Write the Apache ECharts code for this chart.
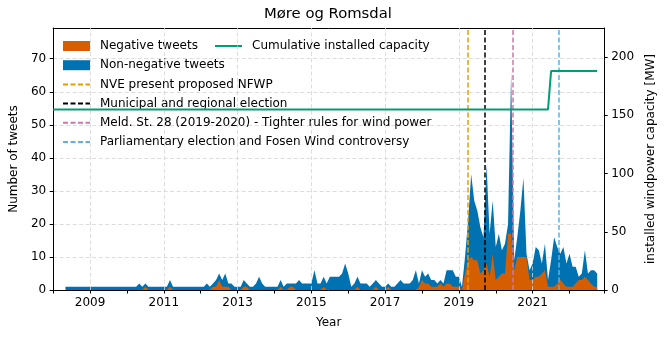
<!DOCTYPE html>
<html>
<head>
<meta charset="utf-8">
<script src="https://cdn.jsdelivr.net/npm/echarts@6/dist/echarts.min.js"></script>
<style>
  html, body { margin: 0; padding: 0; background: #fff; }
  #chart { width: 665px; height: 338px; }
</style>
</head>
<body>
<div id="chart"></div>
<script>
// tweets per month (flat stretches only listed at their ends)
const tweetMonths = [
  '2008-05', '2010-04', '2010-05', '2010-06', '2010-07', '2010-08', '2011-02', '2011-03', '2011-04',
  '2012-02', '2012-03', '2012-04', '2012-05', '2012-06', '2012-07', '2012-08', '2012-09', '2012-10', '2012-11', '2012-12',
  '2013-02', '2013-03', '2013-04', '2013-05', '2013-06', '2013-07', '2013-08', '2013-09', '2013-10',
  '2014-02', '2014-03', '2014-04', '2014-05', '2014-06', '2014-07', '2014-08', '2014-09', '2014-10', '2014-11', '2014-12',
  '2015-01', '2015-02', '2015-03', '2015-04', '2015-05', '2015-06', '2015-07', '2015-08', '2015-09', '2015-10', '2015-11', '2015-12',
  '2016-01', '2016-02', '2016-03', '2016-04', '2016-05', '2016-06', '2016-07', '2016-08', '2016-09', '2016-10', '2016-11', '2016-12',
  '2017-01', '2017-02', '2017-03', '2017-04', '2017-05', '2017-06', '2017-07', '2017-08', '2017-09', '2017-10', '2017-11', '2017-12',
  '2018-01', '2018-02', '2018-03', '2018-04', '2018-05', '2018-06', '2018-07', '2018-08', '2018-09', '2018-10', '2018-11', '2018-12',
  '2019-01', '2019-02', '2019-03', '2019-04', '2019-05', '2019-06', '2019-07', '2019-08', '2019-09', '2019-10', '2019-11', '2019-12',
  '2020-01', '2020-02', '2020-03', '2020-04', '2020-05', '2020-06', '2020-07', '2020-08', '2020-09', '2020-10', '2020-11', '2020-12',
  '2021-01', '2021-02', '2021-03', '2021-04', '2021-05', '2021-06', '2021-07', '2021-08', '2021-09', '2021-10', '2021-11', '2021-12',
  '2022-01', '2022-02', '2022-03', '2022-04', '2022-05', '2022-06', '2022-07', '2022-08', '2022-09', '2022-10'
]
const negTweets = [
  0, 0, 0, 0, 1, 0, 0, 1, 0,
  0, 0, 0, 1, 1, 3, 1, 1, 1, 0, 0,
  0, 1, 1, 0, 0, 0, 0, 0, 0,
  0, 1, 0, 0, 1, 1, 0, 0, 0, 0, 0,
  0, 0, 0, 0, 1, 0, 0, 0, 0, 0, 0, 0,
  0, 0, 0, 1, 0, 0, 0, 0, 0, 1, 0, 0,
  0, 1, 0, 0, 0, 0, 0, 0, 0, 0, 0, 1,
  3, 2, 2, 1, 1, 1, 2, 1, 2, 2, 1, 1,
  1, 0, 5, 9, 10, 9, 9, 5, 6, 8, 4, 11,
  3, 4, 5, 5, 17, 17, 6, 10, 10, 10, 10, 3,
  3, 4, 4, 5, 6, 1, 1, 1, 2, 3, 2, 1,
  1, 1, 2, 3, 3, 4, 3, 2, 1, 1
]
const nonNegTweets = [
  1, 1, 2, 1, 1, 1, 1, 2, 1,
  1, 2, 1, 1, 2, 2, 2, 4, 1, 2, 1,
  1, 2, 1, 1, 1, 2, 4, 2, 1,
  1, 2, 1, 2, 1, 1, 2, 3, 2, 2, 2,
  2, 6, 2, 2, 3, 2, 4, 4, 4, 4, 5, 8,
  5, 1, 2, 3, 2, 2, 2, 1, 2, 2, 2, 1,
  1, 1, 1, 1, 2, 3, 2, 2, 2, 3, 6, 1,
  3, 2, 3, 2, 2, 1, 1, 1, 4, 4, 5, 3,
  3, 1, 5, 12, 25, 18, 15, 14, 10, 30, 13, 16,
  10, 13, 7, 9, 3, 49, 3, 6, 14, 24, 1, 3,
  5, 9, 8, 3, 8, 2, 8, 15, 11, 8, 11, 7,
  10, 6, 5, 1, 2, 8, 2, 4, 5, 4
]

// cumulative installed capacity [MW]
const capMonths = ['2008-01', '2021-06', '2021-07', '2022-10']
const capacityMW = [155, 155, 188, 188]

// events (dashed vertical lines)
const eventNames = [
  'NVE present proposed NFWP',
  'Municipal and regional election',
  'Meld. St. 28 (2019-2020) - Tighter rules for wind power',
  'Parliamentary election and Fosen Wind controversy'
]
const eventDates = ['2019-04-01', '2019-09-09', '2020-06-19', '2021-09-13']
const eventColors = ['#E69F00', '#000000', '#CC79A7', '#56B4E9']

const gridYears = [2009, 2011, 2013, 2015, 2017, 2019, 2021]

const FONT = 'DejaVu Sans'

const toYear = (s) => {
  const p = s.split('-').map(Number)
  return p[0] + (p[1] - 1) / 12 + ((p[2] || 1) - 1) / 365
}

const xs = tweetMonths.map(toYear)
const negData = xs.map((x, i) => [x, negTweets[i]])
// blue area is drawn from zero up to negative + non-negative
const totalData = xs.map((x, i) => [x, negTweets[i] + nonNegTweets[i]])
const capData = capMonths.map((m, i) => [toYear(m), capacityMW[i]])

const dashGrey = { color: '#d4d4d4', width: 0.8, type: [4, 2.5] }
const noSymbol = { opacity: 0, color: 'rgba(0,0,0,0)', borderWidth: 0 }

const chart = echarts.init(document.getElementById('chart'))

const eventSeries = eventNames.map((name, i) => ({
  name: name,
  type: 'line',
  data: [],
  symbol: 'none',
  z: 6,
  lineStyle: { color: eventColors[i], width: 1.5, type: [5, 2.5] },
  itemStyle: { color: eventColors[i] },
  markLine: {
    silent: true,
    symbol: 'none',
    label: { show: false },
    lineStyle: { color: eventColors[i], width: 1.5, type: [5, 2.5] },
    data: [{ xAxis: toYear(eventDates[i]) }]
  }
}))

chart.setOption({
  animation: false,
  textStyle: { fontFamily: FONT },
  title: {
    text: 'Møre og Romsdal',
    left: 264,
    top: 7,
    padding: 0,
    textStyle: { fontFamily: FONT, fontSize: 14.8, fontWeight: 'normal', color: '#000' }
  },
  grid: { left: 52, right: 60, top: 28, bottom: 48 },
  legend: [
    {
      orient: 'vertical',
      left: 57,
      top: 35,
      itemWidth: 27,
      itemHeight: 10,
      itemGap: 7.2,
      textStyle: { fontFamily: FONT, fontSize: 12, color: '#000', padding: [0, 0, 0, 5] },
      data: [
        { name: 'Negative tweets', icon: 'rect', itemStyle: { borderWidth: 0 } },
        { name: 'Non-negative tweets', icon: 'rect', itemStyle: { borderWidth: 0 } },
        ...eventNames.map((n) => ({ name: n, itemStyle: noSymbol }))
      ]
    },
    {
      orient: 'vertical',
      left: 209,
      top: 35,
      itemWidth: 27,
      itemHeight: 10,
      textStyle: { fontFamily: FONT, fontSize: 12, color: '#000', padding: [0, 0, 0, 5] },
      data: [{ name: 'Cumulative installed capacity', itemStyle: noSymbol }]
    }
  ],
  xAxis: [
    {
      type: 'value',
      min: 2008,
      max: 2022.94,
      interval: 1,
      name: 'Year',
      nameLocation: 'middle',
      nameGap: 27,
      nameTextStyle: { fontFamily: FONT, fontSize: 12, color: '#000' },
      axisLine: { show: true, lineStyle: { color: '#000', width: 1 } },
      axisTick: { show: true, length: 3.5, lineStyle: { color: '#000' } },
      axisLabel: {
        margin: 7,
        fontFamily: FONT,
        fontSize: 12,
        color: '#000',
        formatter: (v) => (Number.isInteger(v) && v % 2 === 1 ? String(v) : '')
      },
      splitLine: { show: false }
    },
    {
      type: 'value',
      position: 'top',
      min: 2008,
      max: 2022.94,
      axisLine: { show: true, onZero: false, lineStyle: { color: '#000', width: 1 } },
      axisTick: { show: false },
      axisLabel: { show: false },
      splitLine: { show: false }
    }
  ],
  yAxis: [
    {
      type: 'value',
      min: 0,
      max: 79.3,
      interval: 10,
      name: 'Number of tweets',
      nameLocation: 'middle',
      nameGap: 24,
      nameTextStyle: { fontFamily: FONT, fontSize: 12, color: '#000' },
      axisLine: { show: true, lineStyle: { color: '#000', width: 1 } },
      axisTick: { show: true, length: 3.5, lineStyle: { color: '#000' } },
      axisLabel: { margin: 7, fontFamily: FONT, fontSize: 12, color: '#000', showMaxLabel: false },
      splitLine: { show: true, lineStyle: dashGrey }
    },
    {
      type: 'value',
      min: 0,
      max: 225,
      interval: 50,
      position: 'right',
      name: 'installed windpower capacity [MW]',
      nameLocation: 'middle',
      nameGap: 40,
      nameTextStyle: { fontFamily: FONT, fontSize: 12, color: '#000' },
      axisLine: { show: true, lineStyle: { color: '#000', width: 1 } },
      axisTick: { show: true, length: 3.5, lineStyle: { color: '#000' } },
      axisLabel: { margin: 7, fontFamily: FONT, fontSize: 12, color: '#000', showMaxLabel: false },
      splitLine: { show: false }
    }
  ],
  series: [
    {
      // vertical grid lines on the labelled years
      type: 'line',
      data: [],
      z: 1,
      markLine: {
        silent: true,
        symbol: 'none',
        label: { show: false },
        lineStyle: dashGrey,
        data: gridYears.map((y) => ({ xAxis: y }))
      }
    },
    {
      name: 'Non-negative tweets',
      type: 'line',
      data: totalData,
      symbol: 'none',
      z: 2,
      lineStyle: { width: 0 },
      itemStyle: { color: '#0072B2' },
      areaStyle: { color: '#0072B2', opacity: 1 }
    },
    {
      name: 'Negative tweets',
      type: 'line',
      data: negData,
      symbol: 'none',
      z: 3,
      lineStyle: { width: 0 },
      itemStyle: { color: '#D55E00' },
      areaStyle: { color: '#D55E00', opacity: 1 }
    },
    ...eventSeries,
    {
      name: 'Cumulative installed capacity',
      type: 'line',
      yAxisIndex: 1,
      data: capData,
      symbol: 'none',
      z: 7,
      lineStyle: { color: '#009E73', width: 2 },
      itemStyle: { color: '#009E73' }
    }
  ]
})
</script>
</body>
</html>
